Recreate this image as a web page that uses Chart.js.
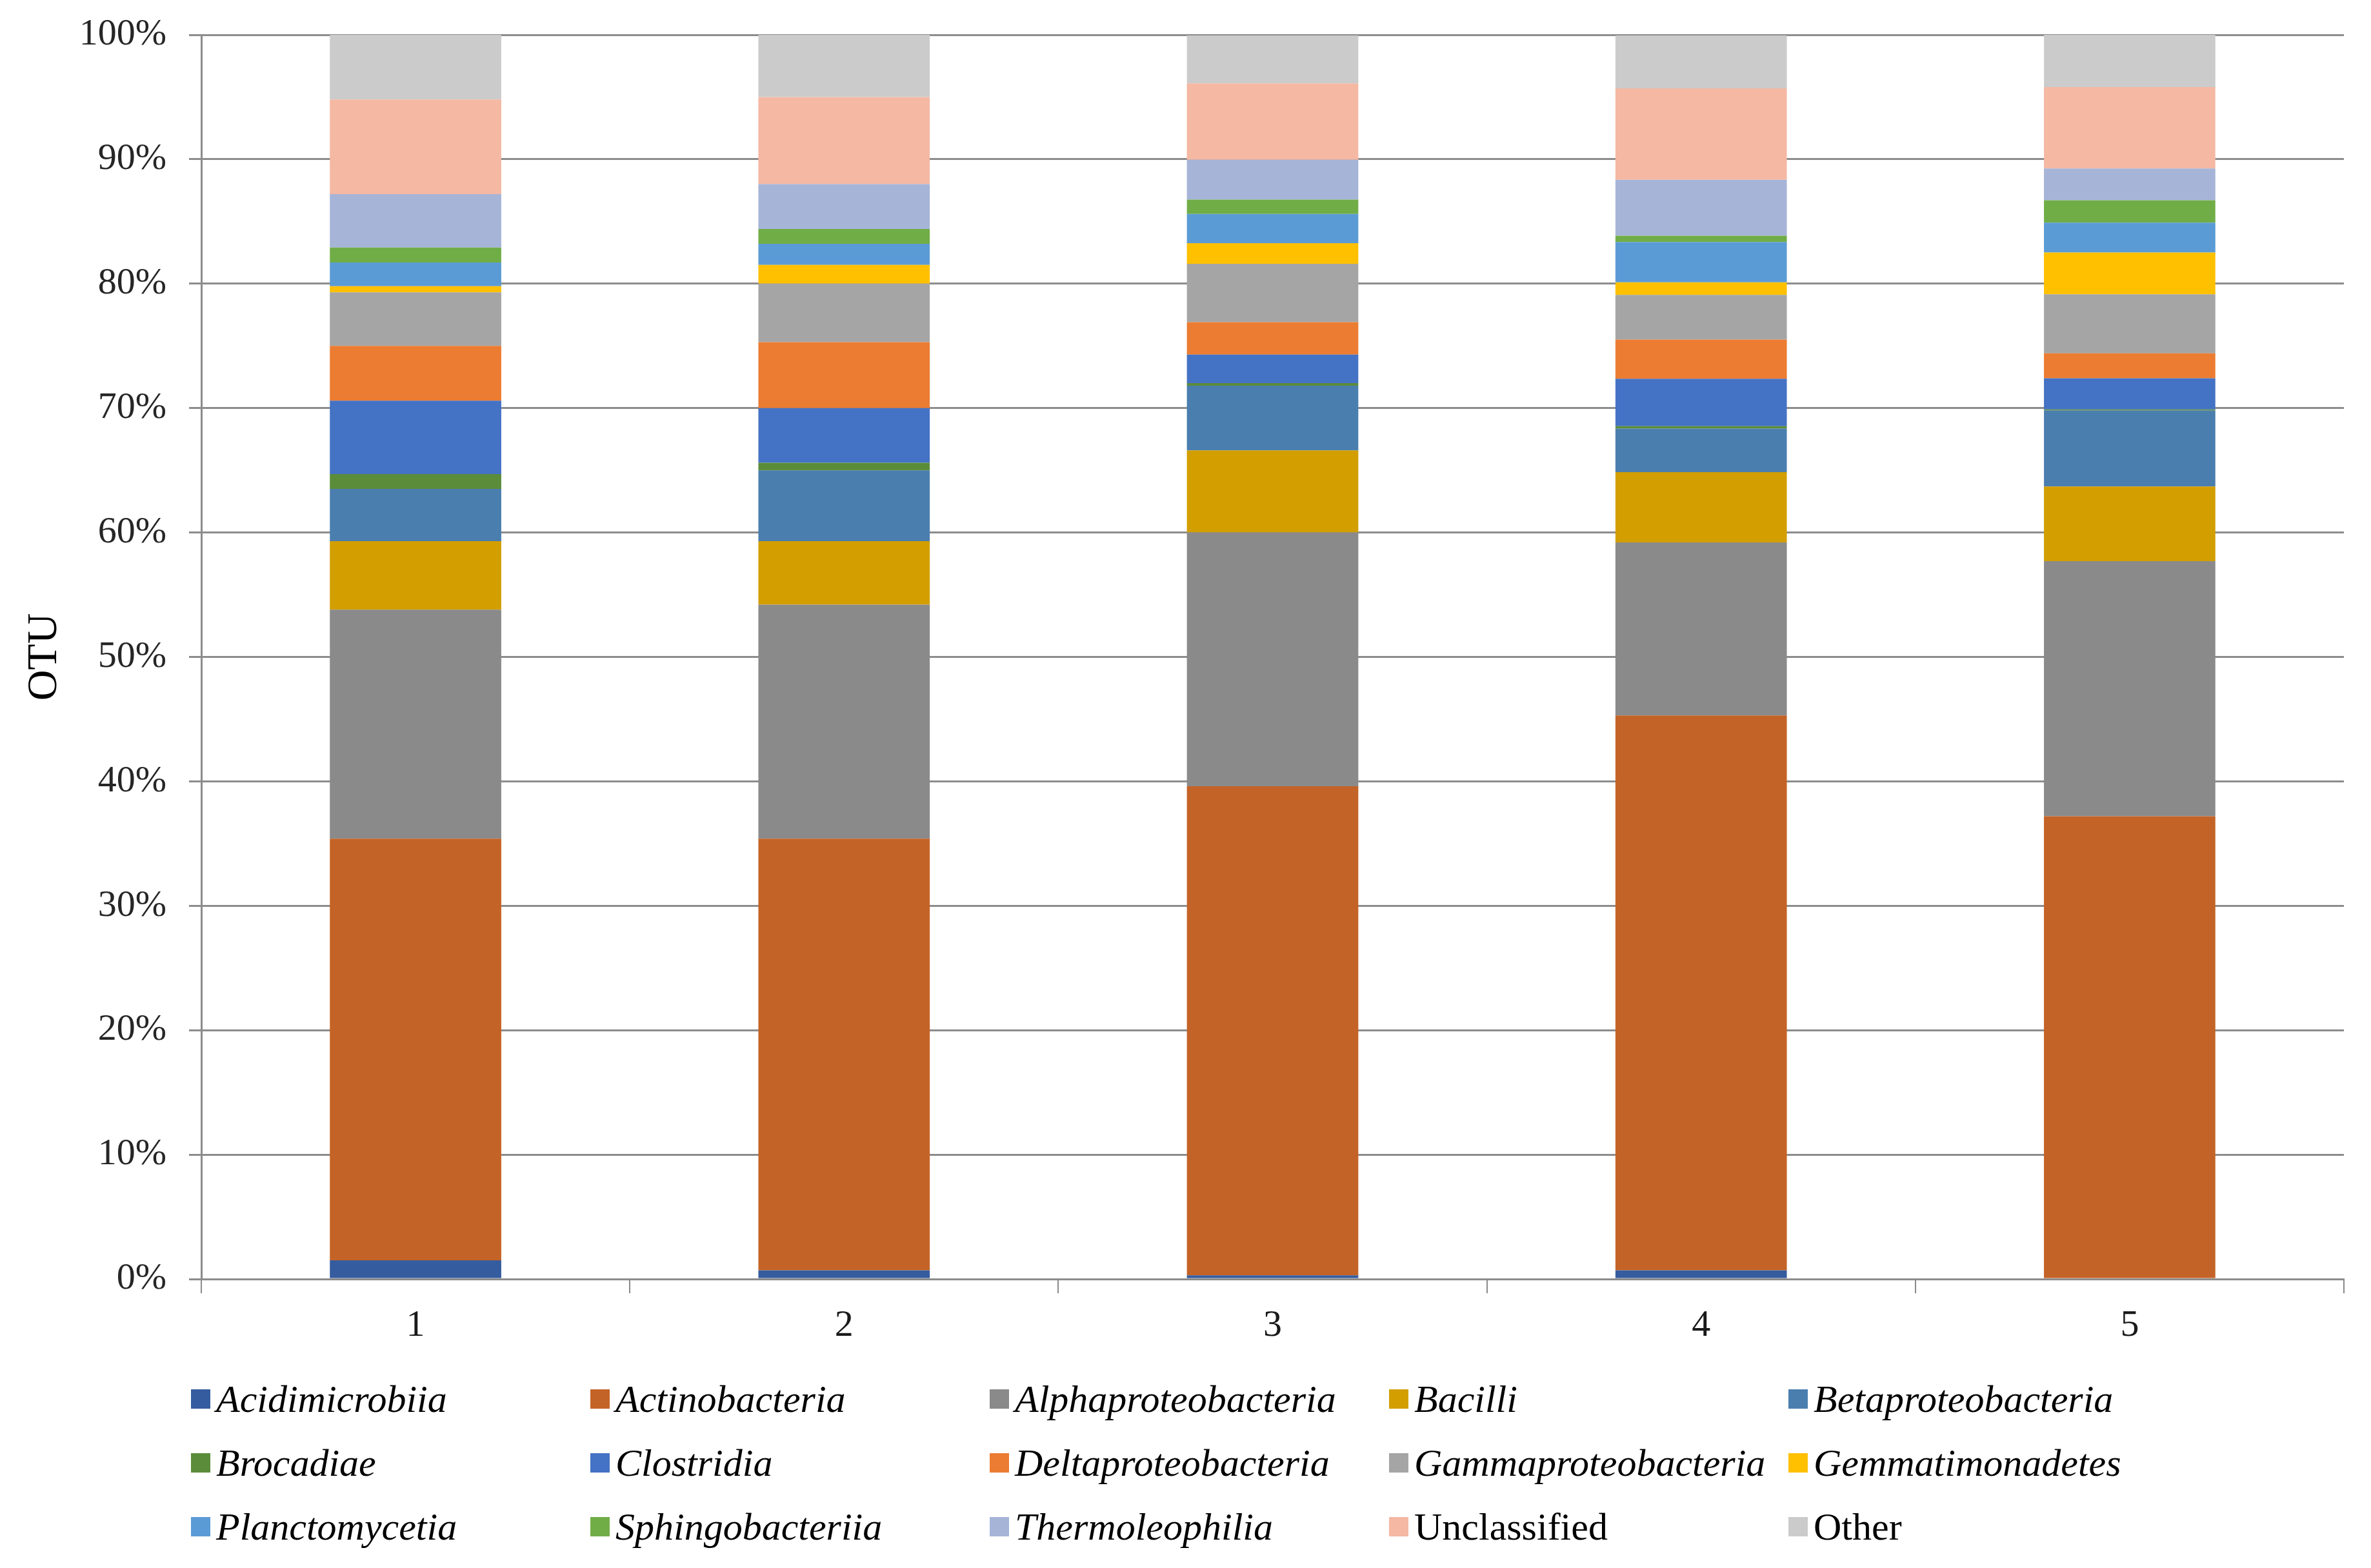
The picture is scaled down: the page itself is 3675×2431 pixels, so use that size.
<!DOCTYPE html>
<html>
<head>
<meta charset="utf-8">
<script src="https://cdn.jsdelivr.net/npm/chart.js@4/dist/chart.umd.min.js"></script>
<style>
  html, body { margin: 0; padding: 0; background: #ffffff; }
  #wrap { position: relative; width: 3675px; height: 2431px; }
  #legend { position: absolute; left: 0; top: 0; width: 3675px; height: 2431px; pointer-events: none; }
  .item { position: absolute; height: 70px; display: flex; align-items: center; white-space: nowrap;
          font-family: "Liberation Serif", "Times New Roman", serif; font-size: 60px; color: #000; }
  .box { width: 30px; height: 30px; margin-right: 9px; flex: none; }
</style>
</head>
<body>
<div id="wrap">
  <canvas id="c" width="3675" height="2431"></canvas>
  <div id="legend"></div>
</div>
<script>
const categories = ['1', '2', '3', '4', '5'];
const tickLabels = ['0%', '10%', '20%', '30%', '40%', '50%', '60%', '70%', '80%', '90%', '100%'];

const acidimicrobiia      = [1.5, 0.7, 0.3, 0.7, 0];
const actinobacteria      = [33.9, 34.7, 39.3, 44.6, 37.2];
const alphaproteobacteria = [18.4, 18.8, 20.4, 13.9, 20.5];
const bacilli             = [5.5, 5.1, 6.6, 5.65, 6.0];
const betaproteobacteria  = [4.2, 5.7, 5.2, 3.5, 6.1];
const brocadiae           = [1.2, 0.6, 0.2, 0.2, 0.1];
const clostridia          = [5.9, 4.4, 2.3, 3.8, 2.5];
const deltaproteobacteria = [4.4, 5.3, 2.6, 3.15, 2.0];
const gammaproteobacteria = [4.3, 4.7, 4.7, 3.6, 4.75];
const gemmatimonadetes    = [0.5, 1.5, 1.65, 1.0, 3.35];
const planctomycetia      = [1.9, 1.7, 2.35, 3.25, 2.4];
const sphingobacteriia    = [1.2, 1.2, 1.15, 0.5, 1.8];
const thermoleophilia     = [4.3, 3.6, 3.2, 4.5, 2.55];
const unclassified        = [7.6, 7.0, 6.15, 7.35, 6.55];
const other               = [5.2, 5.0, 3.85, 4.25, 4.2];

const seriesNames = ['Acidimicrobiia', 'Actinobacteria', 'Alphaproteobacteria', 'Bacilli', 'Betaproteobacteria',
  'Brocadiae', 'Clostridia', 'Deltaproteobacteria', 'Gammaproteobacteria', 'Gemmatimonadetes',
  'Planctomycetia', 'Sphingobacteriia', 'Thermoleophilia', 'Unclassified', 'Other'];
const seriesValues = [acidimicrobiia, actinobacteria, alphaproteobacteria, bacilli, betaproteobacteria,
  brocadiae, clostridia, deltaproteobacteria, gammaproteobacteria, gemmatimonadetes,
  planctomycetia, sphingobacteriia, thermoleophilia, unclassified, other];
const seriesColors = ['#355C9E', '#C46327', '#8A8A8A', '#D29E00', '#4A7EAF',
  '#5B8C3A', '#4472C4', '#EB7C32', '#A5A5A5', '#FFC000',
  '#5B9BD5', '#70AD47', '#A6B4D8', '#F4B8A3', '#CBCBCB'];
const italicNames = [true, true, true, true, true, true, true, true, true, true, true, true, true, false, false];

const serif = '"Liberation Serif", "Times New Roman", serif';

const datasets = seriesNames.map((name, i) => ({
  label: name,
  data: seriesValues[i],
  backgroundColor: seriesColors[i],
  borderWidth: 0,
  barPercentage: 0.4,
  categoryPercentage: 1.0
}));

new Chart(document.getElementById('c'), {
  type: 'bar',
  data: { labels: categories, datasets: datasets },
  options: {
    responsive: false,
    devicePixelRatio: 1,
    animation: false,
    layout: { padding: { left: 0, right: 42, top: 54, bottom: 318 } },
    plugins: { legend: { display: false }, tooltip: { enabled: false } },
    scales: {
      x: {
        stacked: true,
        grid: { display: true, offset: true, drawOnChartArea: false, drawTicks: true,
                tickLength: 22, color: '#8a8a8a', lineWidth: 2 },
        border: { display: true, color: '#8c8c8c', width: 3 },
        ticks: { color: '#1a1a1a', font: { family: serif, size: 58 }, padding: 16 },
        afterFit: (s) => { s.height = 130; s.paddingLeft = 0; s.paddingRight = 0; }
      },
      y: {
        stacked: true,
        min: 0, max: 100,
        ticks: { stepSize: 10, color: '#262626', font: { family: serif, size: 58 }, padding: 35,
                 callback: (v) => tickLabels[Math.round(v / 10)] },
        grid: { color: '#8c8c8c', lineWidth: 3, tickLength: 19, drawTicks: true },
        border: { display: true, color: '#8c8c8c', width: 3 },
        title: { display: true, text: 'OTU', color: '#000', font: { family: serif, size: 66 },
                 padding: { top: 30, bottom: 0 } },
        afterFit: (s) => { s.width = 312; s.paddingTop = 0; s.paddingBottom = 0; }
      }
    }
  }
});

// HTML legend, 5 columns x 3 rows, built from the series lists
const legend = document.getElementById('legend');
seriesNames.forEach((name, i) => {
  const col = i % 5, row = Math.floor(i / 5);
  const item = document.createElement('div');
  item.className = 'item';
  item.style.left = (296 + col * 619) + 'px';
  item.style.top = (2169 + row * 99 - 35) + 'px';
  item.style.fontStyle = italicNames[i] ? 'italic' : 'normal';
  const box = document.createElement('span');
  box.className = 'box';
  box.style.background = seriesColors[i];
  const txt = document.createElement('span');
  txt.textContent = name;
  item.appendChild(box);
  item.appendChild(txt);
  legend.appendChild(item);
});
</script>
</body>
</html>
